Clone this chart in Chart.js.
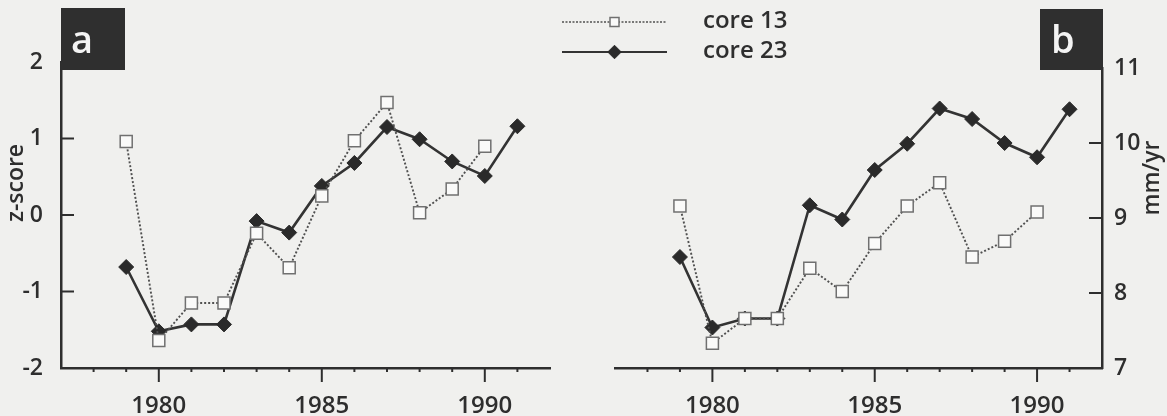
<!DOCTYPE html>
<html>
<head>
<meta charset="utf-8">
<script src="https://cdn.jsdelivr.net/npm/chart.js@4.4.1/dist/chart.umd.min.js"></script>
<style>
  html, body { margin: 0; padding: 0; background: #f0f0ee; }
  #wrap { position: relative; width: 1167px; height: 416px; overflow: hidden; }
  canvas { position: absolute; top: 0; }
  #panelA { left: 0; }
  #panelB { left: 540px; }
</style>
</head>
<body>
<div id="wrap">
  <canvas id="panelA" width="560" height="416"></canvas>
  <canvas id="panelB" width="627" height="416"></canvas>
</div>
<script>
// yearly values, 1979-1991 (core 13 has no 1991 value)
const years = [1979, 1980, 1981, 1982, 1983, 1984, 1985, 1986, 1987, 1988, 1989, 1990, 1991];
const zScoreCore13 = [0.96, -1.64, -1.15, -1.15, -0.24, -0.69, 0.25, 0.97, 1.47, 0.03, 0.34, 0.90, null];
const zScoreCore23 = [-0.68, -1.52, -1.43, -1.43, -0.08, -0.23, 0.38, 0.68, 1.15, 0.99, 0.70, 0.51, 1.16];
const rateCore13 = [9.16, 7.33, 7.66, 7.66, 8.33, 8.02, 8.66, 9.16, 9.47, 8.48, 8.69, 9.08, null];
const rateCore23 = [8.48, 7.54, 7.66, 7.66, 9.17, 8.98, 9.64, 9.99, 10.46, 10.32, 10.00, 9.81, 10.45];
const yearTicks = [1980, 1985, 1990];
const zScoreTicks = [-2, -1, 0, 1, 2];
const rateTicks = [7, 8, 9, 10, 11];
const seriesNames = ['core 13', 'core 23'];

const INK = '#2e2e2e';
const FONT = '"Open Sans", "Noto Sans", sans-serif';

const core13Style = {
  borderColor: '#505050', borderWidth: 1.9, borderDash: [2, 2],
  pointStyle: 'rect', pointRadius: 8.5,
  pointBackgroundColor: '#fafaf9', pointBorderColor: '#707070', pointBorderWidth: 1.5
};
const core23Style = {
  borderColor: '#333', borderWidth: 2.6,
  pointStyle: 'rectRot', pointRadius: 7.5,
  pointBackgroundColor: '#2a2a2a', pointBorderColor: '#2a2a2a', pointBorderWidth: 1
};

function pairs(values) {
  return years.map((yr, i) => ({ x: yr, y: values[i] }));
}

function marker(ctx, style, x, y, scale) {
  const r = style.pointRadius * scale;
  ctx.save();
  ctx.setLineDash([]);
  ctx.fillStyle = style.pointBackgroundColor;
  ctx.strokeStyle = style.pointBorderColor;
  ctx.lineWidth = style.pointBorderWidth;
  ctx.beginPath();
  if (style.pointStyle === 'rect') {
    const h = r * Math.SQRT1_2;
    ctx.rect(x - h, y - h, 2 * h, 2 * h);
  } else {
    ctx.moveTo(x, y - r);
    ctx.lineTo(x + r, y);
    ctx.lineTo(x, y + r);
    ctx.lineTo(x - r, y);
    ctx.closePath();
  }
  ctx.fill();
  ctx.stroke();
  ctx.restore();
}

// tick marks, panel letter box, rotated axis title and the key
const panelDecor = {
  id: 'panelDecor',
  afterDraw(chart, args, opts) {
    const { ctx, chartArea, scales: { x, y } } = chart;
    ctx.save();
    ctx.strokeStyle = INK;
    ctx.lineWidth = 2;

    // year ticks below the axis, long ones at the labelled years
    for (let yr = x.min + 1; yr < x.max; yr++) {
      const px = x.getPixelForValue(yr);
      const len = yearTicks.includes(yr) ? 14 : 4;
      ctx.beginPath();
      ctx.moveTo(px, chartArea.bottom);
      ctx.lineTo(px, chartArea.bottom + len);
      ctx.stroke();
    }

    // value ticks point into the plot
    const x0 = opts.side === 'left' ? chartArea.left : chartArea.right;
    const dir = opts.side === 'left' ? 1 : -1;
    y.ticks.forEach(t => {
      const py = y.getPixelForValue(t.value);
      ctx.beginPath();
      ctx.moveTo(x0, py);
      ctx.lineTo(x0 + dir * 13, py);
      ctx.stroke();
    });

    // panel letter
    const b = opts.box;
    ctx.fillStyle = '#2f2f2f';
    ctx.fillRect(b.x, b.y, b.w, b.h);
    ctx.fillStyle = '#f4f4f4';
    ctx.font = '600 38px ' + FONT;
    ctx.textAlign = 'left';
    ctx.textBaseline = 'alphabetic';
    ctx.fillText(opts.letter, b.tx, b.ty);

    // axis title, reading upwards
    ctx.fillStyle = INK;
    ctx.font = '600 23px ' + FONT;
    ctx.translate(opts.title.x, opts.title.y);
    ctx.rotate(-Math.PI / 2);
    ctx.textAlign = 'center';
    ctx.textBaseline = 'middle';
    ctx.fillText(opts.title.text, 0, 0);
    ctx.restore();

    if (opts.key) {
      const k = opts.key;
      const styles = [core13Style, core23Style];
      ctx.save();
      styles.forEach((st, i) => {
        const ly = k.y + i * k.gap;
        ctx.strokeStyle = st.borderColor;
        ctx.lineWidth = i === 0 ? 1.4 : 2;
        ctx.setLineDash(i === 0 ? [2, 1.5] : []);
        ctx.beginPath();
        ctx.moveTo(k.x, ly);
        ctx.lineTo(k.x + k.len, ly);
        ctx.stroke();
        marker(ctx, st, k.x + k.len / 2, ly, i === 0 ? 0.75 : 0.9);
        ctx.fillStyle = INK;
        ctx.font = '600 24px ' + FONT;
        ctx.textAlign = 'left';
        ctx.textBaseline = 'middle';
        ctx.fillText(seriesNames[i], k.textX, ly - 1);
      });
      ctx.restore();
    }
  }
};

function makePanel(canvasId, cfg) {
  return new Chart(document.getElementById(canvasId), {
    type: 'line',
    data: {
      datasets: [
        { label: seriesNames[0], data: pairs(cfg.core13), ...core13Style },
        { label: seriesNames[1], data: pairs(cfg.core23), ...core23Style }
      ]
    },
    options: {
      responsive: false,
      animation: false,
      layout: { padding: cfg.padding },
      plugins: {
        legend: { display: false },
        tooltip: { enabled: false },
        panelDecor: cfg.decor
      },
      scales: {
        x: {
          type: 'linear', min: 1977, max: 1992,
          afterBuildTicks: s => { s.ticks = yearTicks.map(v => ({ value: v })); },
          afterFit: s => { s.height = 48; },
          grid: { display: false },
          border: { color: INK, width: 2.5 },
          ticks: {
            color: INK, padding: 16, maxRotation: 0,
            font: { family: FONT, size: 24, weight: '600' },
            callback: v => String(v)
          }
        },
        y: {
          type: 'linear', position: cfg.side, min: cfg.ticks[0], max: cfg.ticks[cfg.ticks.length - 1],
          afterBuildTicks: s => { s.ticks = cfg.ticks.map(v => ({ value: v })); },
          afterFit: s => { s.width = cfg.axisWidth; },
          grid: { display: false },
          border: { color: INK, width: 2.5 },
          ticks: {
            color: INK, padding: cfg.side === 'left' ? 10 : 4,
            font: { family: FONT, size: 23, weight: '600' },
            callback: v => String(v)
          }
        }
      }
    },
    plugins: [panelDecor]
  });
}

makePanel('panelA', {
  core13: zScoreCore13, core23: zScoreCore23, ticks: zScoreTicks,
  side: 'left', axisWidth: 61,
  padding: { left: 0, top: 62, right: 7, bottom: 0 },
  decor: {
    side: 'left', letter: 'a',
    box: { x: 61, y: 8, w: 64, h: 62, tx: 71, ty: 53 },
    title: { text: 'z-score', x: 16, y: 183 }
  }
});

makePanel('panelB', {
  core13: rateCore13, core23: rateCore23, ticks: rateTicks,
  side: 'right', axisWidth: 65,
  padding: { left: 75, top: 68, right: 0, bottom: 0 },
  decor: {
    side: 'right', letter: 'b',
    box: { x: 500, y: 9, w: 63, h: 61, tx: 511, ty: 53 },
    title: { text: 'mm/yr', x: 612, y: 178 },
    key: { x: 22, y: 22, gap: 30, len: 105, textX: 163 }
  }
});
</script>
</body>
</html>
